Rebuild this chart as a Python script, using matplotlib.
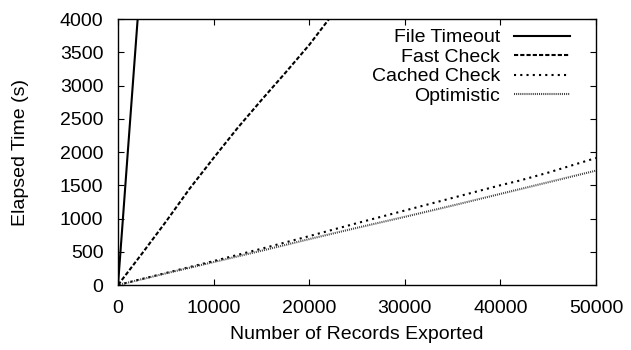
import matplotlib
matplotlib.use('Agg')
import matplotlib.pyplot as plt

# records exported vs elapsed seconds
timeout_x = [0, 500, 1000, 1500, 2000, 2500]
timeout_y = [0, 970, 1950, 2920, 3890, 4860]

fast_x = [0, 2500, 5000, 7500, 10000, 12500, 15000, 17500, 20000, 22500, 25000]
fast_y = [0, 470, 950, 1450, 1910, 2360, 2780, 3190, 3610, 4080, 4530]

cached_x = [0, 5000, 10000, 15000, 20000, 25000, 30000, 35000, 40000, 42000, 45000, 50000]
cached_y = [0, 180, 360, 545, 735, 930, 1120, 1310, 1500, 1570, 1690, 1910]

optimistic_x = [0, 5000, 10000, 15000, 20000, 25000, 30000, 35000, 40000, 45000, 50000]
optimistic_y = [0, 175, 345, 515, 690, 860, 1025, 1195, 1370, 1545, 1720]

x_ticks = [0, 10000, 20000, 30000, 40000, 50000]
y_ticks = [0, 500, 1000, 1500, 2000, 2500, 3000, 3500, 4000]

plt.rcParams['font.family'] = ['Liberation Sans', 'DejaVu Sans']
plt.rcParams['font.size'] = 14

fig = plt.figure(figsize=(6.31, 3.5), dpi=100)
ax = fig.add_axes([0.187, 0.1857, 0.7575, 0.76])

lw = 1.5
ax.plot(timeout_x, timeout_y, color='black', lw=lw, label='File Timeout')
ax.plot(fast_x, fast_y, color='black', lw=lw, linestyle=(0, (2, 1)), label='Fast Check')
ax.plot(cached_x, cached_y, color='black', lw=lw, linestyle=(0, (1, 2)), label='Cached Check')
ax.plot(optimistic_x, optimistic_y, color='#444444', lw=lw, linestyle=(0, (0.5, 0.5)), label='Optimistic')

ax.set_xlim(0, 50000)
ax.set_ylim(0, 4000)
ax.set_xticks(x_ticks)
ax.set_yticks(y_ticks)
ax.tick_params(direction='in', length=4, width=0.8, top=True, right=True)
ax.tick_params(axis='x', pad=11)
ax.tick_params(axis='y', pad=10.5)
for s in ax.spines.values():
    s.set_linewidth(1.0)

ax.set_xlabel('Number of Records Exported', labelpad=6)
ax.set_ylabel('Elapsed Time (s)', labelpad=22)

ax.legend(loc='upper right', frameon=False, markerfirst=False, handlelength=2.9,
          handletextpad=0.7, labelspacing=0.1, borderaxespad=0.1, bbox_to_anchor=(0.966, 1.0))

fig.savefig('out.png', dpi=100)
